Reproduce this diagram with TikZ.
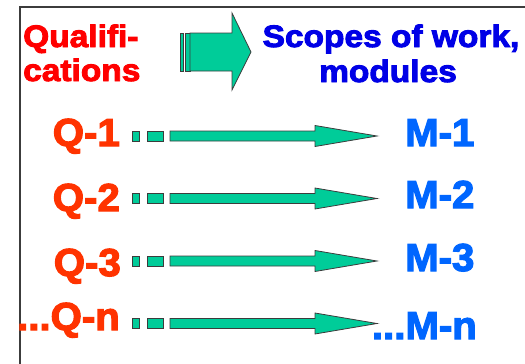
\documentclass[tikz,border=0pt]{standalone}
\usepackage{fontspec}
\setmainfont{Liberation Sans}
\newfontfamily\hdfont{Liberation Sans}[UprightFont=* Bold,FakeBold=3,FakeStretch=1.08,Ligatures=CommonOff]
\newfontfamily\rowfont{Liberation Sans}[UprightFont=* Bold,FakeBold=3,FakeStretch=1.03,Ligatures=CommonOff]
\definecolor{hdred}{RGB}{255,0,0}
\definecolor{hdblue}{RGB}{0,0,230}
\definecolor{qcol}{RGB}{255,51,0}
\definecolor{mcol}{RGB}{0,102,255}
\definecolor{arrfill}{RGB}{0,204,153}
\definecolor{edge}{RGB}{60,60,60}
\tikzset{
  hdr/.style={inner sep=0pt,font=\hdfont\fontsize{31}{34}\selectfont},
  rowlbl/.style={inner sep=0pt,font=\rowfont\fontsize{39}{40}\selectfont},
  blk/.style={fill=arrfill,draw=edge,line width=0.8pt,line join=miter},
  frame/.style={draw=edge,line width=1.2pt},
  rowarrow/.pic={
    \path[blk] (132,-5) rectangle (139,5);
    \path[blk] (147,-5) rectangle (163,5);
    \path[blk] (170,-5) -- (315,-5) -- (315,-10.5) -- (377,0) -- (315,10.5) -- (315,5) -- (170,5) -- cycle;
  }
}
\begin{document}
\begin{tikzpicture}[x=1pt,y=-1pt]
\useasboundingbox (0,0) rectangle (525,364);
\draw[frame] (20,364) -- (20,7) -- (525,7);
% header
\node[hdr,text=hdred,anchor=base west] (qual) at (23,47) {Qualif\kern0pt i-};
\node[hdr,text=hdred,anchor=base west] (qual2) at (23,81) {cations};
\node[hdr,text=hdblue,anchor=base] (scope) at (391,47) {Scopes of work,};
\node[hdr,text=hdblue,anchor=base] (scope2) at (388,82) {modules};
% big arrow
\path[blk] (180,33) rectangle (183,71);
\path[blk] (185,33) rectangle (190,71);
\path[blk] (190,33) -- (232,33) -- (232,13) -- (251,52) -- (232,90) -- (232,71) -- (190,71) -- cycle;
% rows
\node[rowlbl,text=qcol,anchor=base east] (Q1) at (120,146) {Q-1};
\node[rowlbl,text=qcol,anchor=base east] (Q2) at (120,211) {Q-2};
\node[rowlbl,text=qcol,anchor=base east] (Q3) at (121,276) {Q-3};
\node[rowlbl,text=qcol,anchor=base east] (Qn) at (120,330) {...Q-n};
\node[rowlbl,text=mcol,anchor=base west] (M1) at (405,146) {M-1};
\node[rowlbl,text=mcol,anchor=base west] (M2) at (405,208) {M-2};
\node[rowlbl,text=mcol,anchor=base west] (M3) at (405,271) {M-3};
\node[rowlbl,text=mcol,anchor=base east] (Mn) at (477,339) {...M-n};
\coordinate (r1) at (0,136);
\coordinate (r2) at (0,198.5);
\coordinate (r3) at (0,261);
\coordinate (rn) at (0,323.5);
\pic at (r1) {rowarrow};
\pic at (r2) {rowarrow};
\pic at (r3) {rowarrow};
\pic at (rn) {rowarrow};
\end{tikzpicture}
\end{document}
